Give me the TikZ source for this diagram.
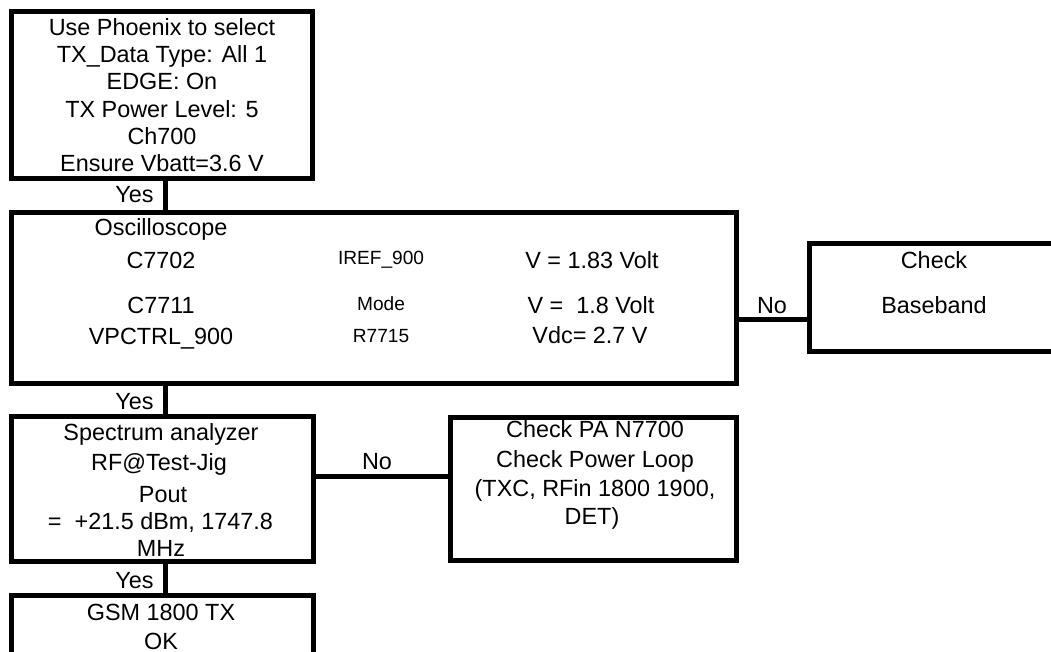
\documentclass[tikz,border=0pt]{standalone}
\usepackage{fontspec}
\setmainfont{Liberation Sans}
\tikzset{
  box/.style={draw, line width=5pt, inner sep=0pt},
  conn/.style={draw, line width=5pt},
  txt/.style={inner sep=0pt, anchor=base, font=\fontsize{23.4}{28}\selectfont},
  small/.style={inner sep=0pt, anchor=base, font=\fontsize{19.1}{23}\selectfont},
}
\begin{document}
\begin{tikzpicture}[x=1pt,y=-1pt]
\clip (0,0) rectangle (1051,652);
\fill[white] (0,0) rectangle (1051,652);
% boxes
\node[box, minimum width=301pt, minimum height=167.5pt] (b1) at (162,95.25) {};
\node[box, minimum width=725pt, minimum height=170.5pt] (b2) at (373.5,297.75) {};
\node[box, minimum width=270pt, minimum height=107.5pt] (b3) at (944,297.25) {};
\node[box, minimum width=302pt, minimum height=144.5pt] (b4) at (162.5,488.75) {};
\node[box, minimum width=285.5pt, minimum height=143pt] (b6) at (593.25,488.5) {};
\node[box, minimum width=302pt, minimum height=104.5pt] (b5) at (162.5,647.75) {};
% box 1 text
\node[txt] (t11) at (162,35.5) {Use Phoenix to select};
\node[txt] (t12) at (162,63) {TX\_Data Type: All 1};
\node[txt] (t13) at (162,90) {EDGE: On};
\node[txt] (t14) at (162,118) {TX Power Level: 5};
\node[txt] (t15) at (162,145) {Ch700};
\node[txt] (t16) at (162,172) {Ensure Vbatt=3.6 V};
% box 2 text
\node[txt] (t21) at (161,236) {Oscilloscope};
\node[txt] (t22) at (161,268) {C7702};
\node[txt] (t23) at (161,313) {C7711};
\node[txt] (t24) at (161,344) {VPCTRL\_900};
\node[small] (t25) at (381,264) {IREF\_900};
\node[small] (t26) at (381,310) {Mode};
\node[small] (t27) at (381,342) {R7715};
\node[txt] (t28) at (592,268) {V = 1.83 Volt};
\node[txt] (t29) at (591,313) {V =\ \ 1.8 Volt};
\node[txt] (t2a) at (590,343) {Vdc= 2.7 V};
% box 3 text
\node[txt] (t31) at (934,268) {Check};
\node[txt] (t32) at (934,313) {Baseband};
% box 4 text
\node[txt] (t41) at (161,440.5) {Spectrum analyzer};
\node[txt] (t42) at (159,470) {RF@Test-Jig};
\node[txt] (t43) at (163,502) {Pout};
\node[txt] (t44) at (160.5,529) {=\ \ +21.5 dBm, 1747.8};
\node[txt] (t45) at (161,556.5) {MHz};
% box 6 text
\node[txt] (t61) at (595,437.5) {Check PA N7700};
\node[txt] (t62) at (595,467.5) {Check Power Loop};
\node[txt] (t63) at (595,496) {(TXC, RFin 1800 1900,};
\node[txt] (t64) at (592,524) {DET)};
% box 5 text
\node[txt] (t51) at (161,620) {GSM 1800 TX};
\node[txt] (t52) at (161,649) {OK};
% connectors
\draw[conn] ([xshift=3.5pt]b1.south) -- ([xshift=3.5pt]b1.south |- b2.north);
\draw[conn] ([xshift=3pt]b4.north |- b2.south) -- ([xshift=3pt]b4.north);
\draw[conn] ([xshift=3pt]b4.south) -- ([xshift=3pt]b5.north);
\draw[conn] (b2.east |- 0,319) -- (b3.west |- 0,319);
\draw[conn] (b4.east |- 0,476.5) -- (b6.west |- 0,476.5);
% labels
\node[txt] (y1) at (134.5,203) {Yes};
\node[txt] (y2) at (134.5,409) {Yes};
\node[txt] (y3) at (134.5,588) {Yes};
\node[txt] (n1) at (772,313) {No};
\node[txt] (n2) at (377,469) {No};
\end{tikzpicture}
\end{document}
